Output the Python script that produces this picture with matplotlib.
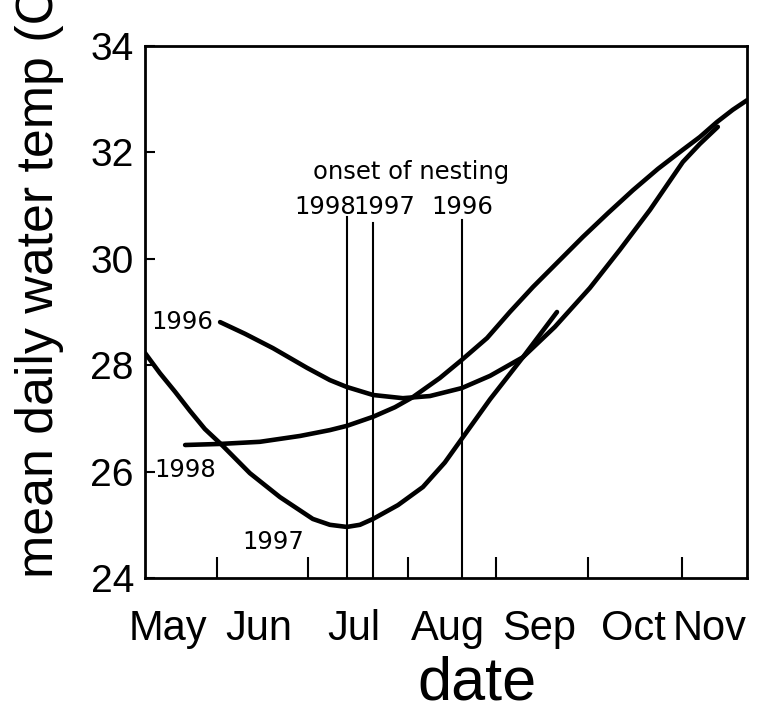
import matplotlib
matplotlib.use("Agg")
import matplotlib.pyplot as plt
from matplotlib import font_manager

# Day-of-year axis, mean daily water temperature (deg C)
month_names = ["May", "Jun", "Jul", "Aug", "Sep", "Oct", "Nov"]
month_label_days = [136, 166, 197, 228, 258, 289, 314]
month_boundary_days = [152, 182, 215, 244, 274, 305]

day_1996 = [153.1, 161.3, 170.5, 181.7, 189.2, 194.8, 203.4, 213.2, 222.1, 232.6,
            241.9, 252.7, 263.2, 274.7, 284.6, 294.5, 305.3, 310.9, 316.8]
temp_1996 = [28.81, 28.59, 28.32, 27.95, 27.72, 27.59, 27.44, 27.38, 27.42, 27.57,
             27.80, 28.15, 28.72, 29.45, 30.17, 30.92, 31.82, 32.16, 32.48]

day_1997 = [128.4, 133.3, 138.3, 143.2, 148.1, 153.7, 162.9, 172.8, 183.6, 189.2,
            194.8, 199.1, 203.4, 211.6, 219.8, 227.0, 232.0, 241.9, 252.7, 263.9]
temp_1997 = [28.23, 27.85, 27.50, 27.14, 26.80, 26.50, 25.97, 25.52, 25.11, 25.00,
             24.96, 25.00, 25.11, 25.37, 25.71, 26.17, 26.57, 27.36, 28.15, 29.00]

day_1998 = [141.6, 153.1, 166.2, 179.4, 189.2, 194.8, 203.4, 210.6, 216.5, 225.4,
            232.6, 240.9, 248.4, 256.0, 264.2, 272.4, 280.7, 288.9, 297.1, 305.3,
            310.9, 316.5, 321.7, 326.4]
temp_1998 = [26.50, 26.52, 26.56, 26.67, 26.78, 26.86, 27.03, 27.21, 27.40, 27.76,
             28.10, 28.51, 29.00, 29.47, 29.94, 30.41, 30.86, 31.29, 31.69, 32.05,
             32.29, 32.57, 32.80, 32.98]

# Onset of nesting for each year
nest_years = ["1998", "1997", "1996"]
nest_days = [194.8, 203.4, 232.6]
nest_tops = [30.79, 30.67, 30.73]
nest_label_days = [187.8, 207.2, 232.6]

names = {f.name for f in font_manager.fontManager.ttflist}
main_font = "Liberation Sans" if "Liberation Sans" in names else "DejaVu Sans"
label_font = "DejaVu Sans"

fig = plt.figure(figsize=(7.69, 7.04), dpi=100)
W, H = 769, 704
ax = fig.add_axes([145 / W, 1 - 578 / H, (747 - 145) / W, (578 - 46) / H])

curve_style = dict(color="black", lw=3.3, solid_capstyle="round", solid_joinstyle="round")
ax.plot(day_1996, temp_1996, **curve_style)
ax.plot(day_1997, temp_1997, **curve_style)
ax.plot(day_1998, temp_1998, **curve_style)

for d, top in zip(nest_days, nest_tops):
    ax.plot([d, d], [24, top], color="black", lw=1.5)

ax.set_xlim(128.4, 326.4)
ax.set_ylim(24, 34)

# Curve labels
small = dict(family=label_font, fontsize=17.5, color="black")
ax.text(140.5, 28.81, "1996", ha="center", va="center", **small)
ax.text(141.5, 26.03, "1998", ha="center", va="center", **small)
ax.text(170.7, 24.68, "1997", ha="center", va="center", **small)

# Nesting labels
for yr, d in zip(nest_years, nest_label_days):
    ax.text(d, 30.97, yr, ha="center", va="center", **small)
ax.text(216.0, 31.64, "onset of nesting", ha="center", va="center", **small)

# Axes styling
for sp in ax.spines.values():
    sp.set_linewidth(2.0)

ax.set_yticks([24, 26, 28, 30, 32, 34])
ax.set_yticklabels(["24", "26", "28", "30", "32", "34"], family=main_font, fontsize=28)
ax.tick_params(axis="y", direction="in", length=7, width=1.5, pad=8)

ax.set_xticks(month_boundary_days)
ax.set_xticklabels([])
ax.tick_params(axis="x", which="major", direction="in", length=15, width=1.5)
ax.set_xticks(month_label_days, minor=True)
ax.set_xticklabels(month_names, minor=True, family=main_font, fontsize=30)
ax.tick_params(axis="x", which="minor", length=0, pad=22)

fig.text(53 / W, 1 - 578 / H, "mean daily water temp (C)", rotation=90,
         rotation_mode="anchor", ha="left", va="baseline",
         family=main_font, fontsize=37.4)
fig.text(477 / W, 1 - 699 / H, "date", ha="center", va="baseline",
         family=main_font, fontsize=44)

fig.savefig("out.png", dpi=100)
